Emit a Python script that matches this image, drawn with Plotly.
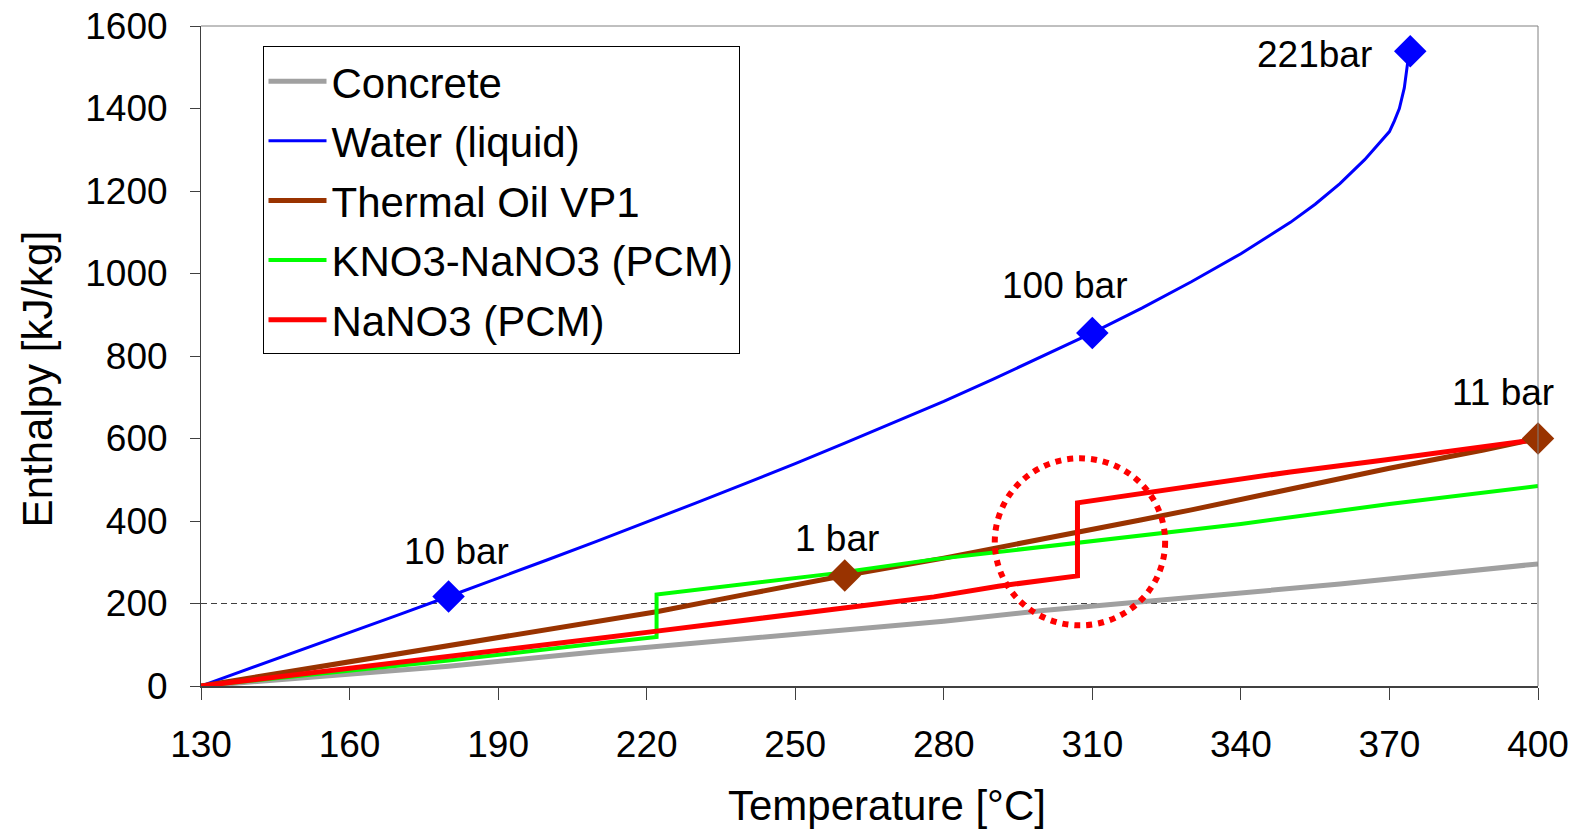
import plotly.graph_objects as go

# ---- data ----
concrete_T = [130, 150, 180, 210, 250, 280, 300, 330, 360, 400]
concrete_H = [0, 19, 48, 83, 124, 157, 183, 215, 247, 296]

water_T = [130, 140, 150, 160, 170, 180, 190, 200, 210, 220, 230, 240, 250, 260, 270,
           280, 290, 300, 310, 320, 330, 340, 350, 355, 360, 365, 370, 371, 372, 373, 373.5, 374]
water_H = [0, 43, 86, 129, 173, 217, 261, 306, 351, 397, 444, 491, 539, 589, 639,
           690, 744, 799, 856, 916, 980, 1048, 1124, 1168, 1218, 1276, 1344, 1370, 1400, 1450, 1490, 1540]

oil_T = [130, 150, 180, 200, 222, 240, 260, 280, 300, 310, 320, 330, 340, 355, 370, 389, 400]
oil_H = [0, 39, 96, 137, 180, 222, 268, 310, 355, 380, 403, 427, 452, 491, 528, 572, 600]

kno3_T = [130, 150, 180, 210, 222, 222, 258, 278, 310, 340, 370, 400]
kno3_H = [0, 24, 62, 103, 119, 222, 273, 307, 351, 393, 441, 485]

nano3_T = [130, 160, 190, 210, 220, 245, 260, 278, 291, 300, 307, 307, 320, 335, 350, 369, 385, 400]
nano3_H = [0, 42, 85, 115, 130, 168, 190, 216, 242, 255, 267, 444, 467, 495, 519, 548, 573, 598]

water_mk_T = [180, 310, 374.2]
water_mk_H = [217, 856, 1539]
oil_mk_T = [260, 400]
oil_mk_H = [268, 600]

labels = ["10 bar", "1 bar", "100 bar", "221bar", "11 bar"]
label_T = [181.6, 258.4, 304.4, 354.9, 393.0]
label_H = [325, 357, 972, 1530, 711]

x_ticks = [130, 160, 190, 220, 250, 280, 310, 340, 370, 400]
y_ticks = [0, 200, 400, 600, 800, 1000, 1200, 1400, 1600]

x_title = "Temperature [°C]"
y_title = "Enthalpy [kJ/kg]"

FONT = "Liberation Sans, Arial, sans-serif"

fig = go.Figure()
series = [
    ("Concrete", concrete_T, concrete_H, "#a0a0a0", 5),
    ("Water (liquid)", water_T, water_H, "#0000ff", 3),
    ("Thermal Oil VP1", oil_T, oil_H, "#993300", 5),
    ("KNO3-NaNO3 (PCM)", kno3_T, kno3_H, "#00ff00", 4),
    ("NaNO3 (PCM)", nano3_T, nano3_H, "#ff0000", 5),
]
for i, (name, xs, ys, col, w) in enumerate(series):
    fig.add_trace(go.Scatter(x=xs, y=ys, mode="lines", name=name,
                             line=dict(color=col, width=w),
                             legendgroup=f"g{i}", cliponaxis=False))

fig.add_trace(go.Scatter(x=water_mk_T, y=water_mk_H, mode="markers", showlegend=False,
                         marker=dict(symbol="diamond", size=25, color="#0000ff"),
                         cliponaxis=False))
fig.add_trace(go.Scatter(x=oil_mk_T, y=oil_mk_H, mode="markers", showlegend=False,
                         marker=dict(symbol="diamond", size=25, color="#993300"),
                         cliponaxis=False))

for t, x, y in zip(labels, label_T, label_H):
    fig.add_annotation(x=x, y=y, text=t, showarrow=False,
                       font=dict(family=FONT, size=37, color="black"),
                       xanchor="center", yanchor="middle")

# axis titles (positioned as in the original)
fig.add_annotation(x=0.5134, y=-0.1812, xref="paper", yref="paper", text=x_title,
                   showarrow=False, font=dict(family=FONT, size=42, color="black"),
                   xanchor="center", yanchor="middle")
fig.add_annotation(x=-0.1222, y=0.464, xref="paper", yref="paper", text=y_title,
                   textangle=-90, showarrow=False,
                   font=dict(family=FONT, size=42, color="black"),
                   xanchor="center", yanchor="middle")

# dashed reference line at 200
fig.add_shape(type="line", x0=130, x1=400, y0=200, y1=200, xref="x", yref="y",
              line=dict(color="#404040", width=1, dash="6px,4px"), layer="below")
# dotted ellipse
fig.add_shape(type="circle", x0=290.3, x1=324.7, y0=147, y1=552, xref="x", yref="y",
              line=dict(color="#ff0000", width=6, dash="6px,6px"), layer="above")
# top and right frame in gray
fig.add_shape(type="line", x0=0, x1=1, y0=1, y1=1, xref="paper", yref="paper",
              line=dict(color="#808080", width=1))
fig.add_shape(type="line", x0=1, x1=1, y0=0, y1=1, xref="paper", yref="paper",
              line=dict(color="#808080", width=1))

fig.update_layout(
    width=1579, height=830,
    margin=dict(l=201, r=41, t=26, b=144, autoexpand=False),
    paper_bgcolor="white", plot_bgcolor="white",
    font=dict(family=FONT, color="black"),
    showlegend=True,
    legend=dict(x=0.046, y=0.969, xanchor="left", yanchor="top",
                bordercolor="black", borderwidth=1, bgcolor="white",
                font=dict(family=FONT, size=42, color="black"),
                tracegroupgap=2, traceorder="grouped", itemwidth=58),
    xaxis=dict(range=[130, 400], tickvals=x_ticks, showgrid=False, zeroline=False,
               automargin=False,
               showline=True, linecolor="#404040", linewidth=2,
               ticks="outside", ticklen=12, tickcolor="#404040", tickwidth=1,
               tickfont=dict(family=FONT, size=37), ticklabelstandoff=13),
    yaxis=dict(range=[0, 1600], tickvals=y_ticks, showgrid=False, zeroline=False,
               automargin=False,
               showline=True, linecolor="#404040", linewidth=1,
               ticks="outside", ticklen=10, tickcolor="#404040", tickwidth=1,
               tickfont=dict(family=FONT, size=37), ticklabelstandoff=15),
)

fig.write_html("out.html")
